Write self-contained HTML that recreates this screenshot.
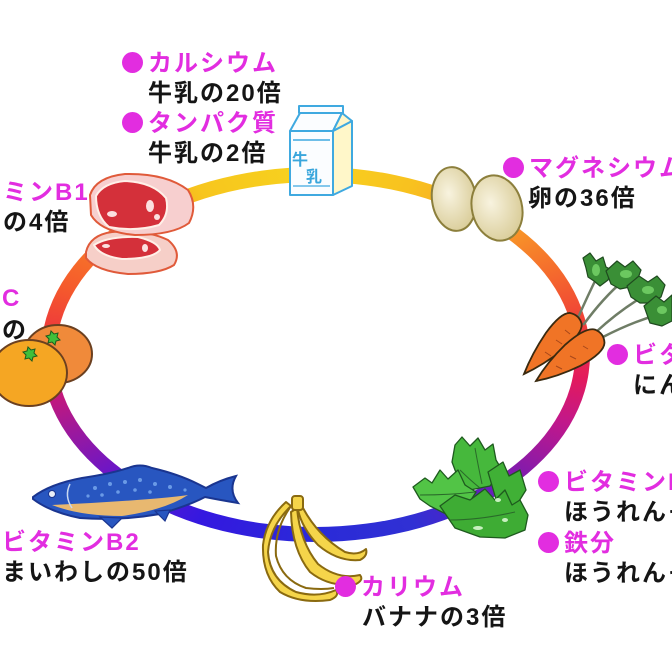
<!DOCTYPE html>
<html><head><meta charset="utf-8">
<style>
html,body{margin:0;padding:0;background:#fff;}
body{width:672px;height:672px;overflow:hidden;position:relative;}
#ring{position:absolute;left:40.5px;top:166.5px;width:549px;height:375px;border-radius:50%;
background:conic-gradient(from 0deg at 50% 50%,#f7d31f 0deg,#f8c11f 30deg,#f89628 58deg,#f56e2c 70deg,#f04436 82deg,#e31a5c 95deg,#c2188a 105deg,#8a1aa8 118deg,#4f22c8 135deg,#3030d4 150deg,#2a2ad8 180deg,#3418e0 215deg,#6a16c8 240deg,#9a189e 252deg,#c81878 262deg,#ec3040 272deg,#f55a2c 285deg,#f88028 300deg,#f7c61e 325deg,#f7d31f 360deg);}
#hole{position:absolute;left:55.5px;top:181.5px;width:519px;height:345px;border-radius:50%;background:#fff;}
svg{position:absolute;left:0;top:0;}
.t{position:absolute;white-space:nowrap;font-family:"Liberation Sans","Noto Sans CJK JP",sans-serif;font-weight:bold;font-size:24px;letter-spacing:2px;line-height:30px;color:#151515;}
.m{color:#e22de0;}
.b{display:inline-block;width:21px;height:21px;border-radius:50%;background:#e22de0;margin-right:5px;vertical-align:-2px;}
</style></head>
<body>
<div id="ring"></div>
<div id="hole"></div>

<svg width="672" height="672" viewBox="0 0 672 672">
<defs>
<radialGradient id="egg" cx="40%" cy="40%" r="65%">
<stop offset="0" stop-color="#f8f3df"/><stop offset="1" stop-color="#d9cc98"/>
</radialGradient>
</defs>

<!-- milk carton -->
<g stroke="#3fa9e0" stroke-width="2" stroke-linejoin="round">
<polygon points="333,131 352,121 352,186 333,195" fill="#fff7c9"/>
<polygon points="290,131 333,131 342,113 300,113" fill="#fbfdff"/>
<polygon points="333,131 352,121 342,113" fill="#fff7c9"/>
<rect x="299" y="106" width="44" height="7" fill="#fbfdff"/>
<rect x="290" y="131" width="43" height="64" fill="#fbfdff"/>
<line x1="293" y1="140" x2="330" y2="140" stroke-width="1.5"/>
<line x1="293" y1="186" x2="330" y2="186" stroke-width="1.2"/>
</g>
<text x="292" y="165" font-family="Liberation Sans,Noto Sans CJK JP,sans-serif" font-weight="bold" font-size="16" fill="#3aa6dc">牛</text>
<text x="306" y="182" font-family="Liberation Sans,Noto Sans CJK JP,sans-serif" font-weight="bold" font-size="16" fill="#3aa6dc">乳</text>

<!-- eggs -->
<ellipse cx="454" cy="199" rx="22" ry="32" transform="rotate(-8 454 199)" fill="url(#egg)" stroke="#8c7f3c" stroke-width="2"/>
<ellipse cx="497" cy="208" rx="25" ry="33" transform="rotate(-14 497 208)" fill="url(#egg)" stroke="#8c7f3c" stroke-width="2"/>

<!-- carrot leaves & stems -->
<g stroke="#6f7d66" stroke-width="2.5" fill="none" stroke-linecap="round">
<path d="M577,320 Q588,295 598,275"/>
<path d="M584,324 Q603,298 624,280"/>
<path d="M596,332 Q620,310 644,296"/>
<path d="M603,337 Q632,322 660,314"/>
</g>
<g stroke="#1f4a1f" stroke-width="1.2" fill="#3a8f36" stroke-linejoin="round">
<polygon points="583,258 590,253 596,261 603,257 606,267 612,270 608,280 600,286 594,281 588,277 586,268"/>
<polygon points="606,271 617,261 625,267 633,261 641,270 637,281 630,287 620,289 611,284"/>
<polygon points="627,286 639,276 648,282 657,276 665,285 661,297 651,303 640,303 631,297"/>
<polygon points="644,306 656,296 664,302 672,295 672,321 662,326 650,323"/>
</g>
<g fill="#6cc860">
<ellipse cx="596" cy="270" rx="4" ry="6"/>
<ellipse cx="626" cy="274" rx="6" ry="4"/>
<ellipse cx="648" cy="290" rx="6" ry="4"/>
<ellipse cx="662" cy="310" rx="5" ry="4"/>
</g>

<!-- carrots -->
<g stroke="#3a2a10" stroke-width="1.8" fill="#f07426">
<path transform="translate(524,374) rotate(-47)" d="M0,0 Q20,-8 45,-12 Q70,-15 76,-8 Q81,0 76,8 Q70,15 45,12 Q20,8 0,0 Z"/>
<path transform="translate(536,381) rotate(-35)" d="M0,0 Q20,-9 45,-13 Q72,-16 78,-8 Q83,0 78,8 Q72,16 45,13 Q20,9 0,0 Z"/>
</g>
<g stroke="#a8481a" stroke-width="1" fill="none">
<path d="M545,352 l6,4 M556,340 l6,4 M565,330 l5,4 M556,366 l6,3 M570,356 l6,3 M583,346 l5,3"/>
</g>

<!-- meat -->
<g stroke="#e05a3a" stroke-width="2" stroke-linejoin="round">
<path d="M86,252 Q90,235 112,232 Q145,229 168,240 Q182,252 174,265 Q160,274 128,274 Q96,271 86,258 Z" fill="#f6cfc8"/>
<path d="M94,245 Q108,236 138,237 Q158,242 160,250 Q152,259 122,259 Q100,256 94,245 Z" fill="#d4303a" stroke="#fff0e8"/>
<path d="M90,195 Q96,177 125,174 Q166,173 188,190 Q198,206 189,223 Q173,235 135,235 Q101,232 91,215 Z" fill="#f7cfcf"/>
<path d="M96,196 Q103,183 125,181 Q153,182 166,198 Q170,214 159,225 Q135,232 109,227 Q96,216 96,196 Z" fill="#d4303a" stroke="#fff0e8"/>
</g>
<g fill="#fbe0e0">
<ellipse cx="112" cy="214" rx="5" ry="3"/>
<ellipse cx="150" cy="206" rx="4" ry="6"/>
<ellipse cx="157" cy="217" rx="3" ry="3"/>
<ellipse cx="145" cy="248" rx="3" ry="4"/>
<ellipse cx="106" cy="246" rx="4" ry="2"/>
</g>

<!-- mandarins -->
<ellipse cx="58" cy="354" rx="34" ry="29" fill="#f08a3a" stroke="#6b4020" stroke-width="2"/>
<ellipse cx="29" cy="373" rx="38" ry="33" fill="#f5a623" stroke="#6b4020" stroke-width="2"/>
<g fill="#3fbf3a" stroke="#1d5a1d" stroke-width="1">
<path d="M51,331 l3,3 l4,-1 l-1,4 l3,3 l-4,1 l-1,4 l-3,-3 l-4,1 l1,-4 l-3,-3 l4,-1 Z"/>
<path d="M28,347 l3,3 l4,-1 l-1,4 l3,3 l-4,1 l-1,4 l-3,-3 l-4,1 l1,-4 l-3,-3 l4,-1 Z"/>
</g>

<!-- fish -->
<path d="M33,497 Q50,484 82,478 Q110,474 128,468 Q140,463 152,468 Q178,474 198,484 L206,488 Q220,480 236,476 Q228,490 238,503 Q220,500 205,497 Q190,505 160,514 Q120,521 80,518 Q50,512 33,499 Z" fill="#2856c0" stroke="#1a3590" stroke-width="2"/>
<path d="M52,505 Q100,503 150,499 Q175,497 188,495 Q165,510 122,516 Q80,516 52,505 Z" fill="#e8b870"/>
<path d="M100,517 L112,528 L122,518 Z M155,511 L165,521 L170,510 Z" fill="#2856c0" stroke="#1a3590" stroke-width="1.2"/>
<g fill="#6a9ae6">
<circle cx="95" cy="488" r="2"/><circle cx="110" cy="484" r="2"/><circle cx="125" cy="482" r="2"/><circle cx="140" cy="480" r="2"/><circle cx="155" cy="484" r="2"/><circle cx="170" cy="487" r="2"/><circle cx="118" cy="492" r="1.8"/><circle cx="135" cy="490" r="1.8"/><circle cx="150" cy="492" r="1.8"/><circle cx="102" cy="495" r="1.8"/><circle cx="185" cy="490" r="1.6"/><circle cx="88" cy="496" r="1.6"/>
</g>
<circle cx="52" cy="494" r="3.5" fill="#e8eef8" stroke="#1a3590" stroke-width="1"/>
<path d="M70,484 Q64,496 72,508" stroke="#c8d8f0" stroke-width="1.5" fill="none"/>

<!-- bananas -->
<g stroke="#8a6a10" stroke-width="2" stroke-linejoin="round" fill="#f5d54a">
<path d="M303,508 Q318,536 345,552 Q358,556 366,549 Q368,556 360,560 Q338,562 318,545 Q302,528 298,510 Z"/>
<path d="M297,508 Q300,542 318,564 Q338,580 360,575 Q364,580 356,584 Q330,588 310,572 Q292,550 291,512 Z"/>
<path d="M291,506 Q270,526 268,552 Q270,580 296,592 Q318,598 336,590 Q340,596 330,600 Q300,604 280,592 Q262,575 263,545 Q266,520 286,502 Z"/>
<path d="M291,506 Q274,530 276,556 Q282,580 306,588 Q322,590 334,588" fill="none"/>
<rect x="292" y="496" width="11" height="14" rx="3"/>
</g>

<!-- spinach -->
<g stroke="#1e5a1e" stroke-width="1.3" stroke-linejoin="round">
<polygon points="452,462 455,445 462,437 470,446 478,438 485,450 493,444 496,460 502,470 490,486 470,490 458,478" fill="#46b83c"/>
<polygon points="488,472 503,462 509,476 520,470 526,490 516,506 498,506" fill="#40b036"/>
<polygon points="413,487 425,478 432,483 440,470 448,479 458,470 465,485 476,492 466,508 450,516 430,506 420,499" fill="#52c446"/>
<polygon points="440,506 455,495 470,500 485,489 495,500 505,490 512,505 520,500 528,515 525,530 505,538 480,537 455,528" fill="#3eac34"/>
</g>
<g stroke="#2a6a2a" stroke-width="1" fill="none">
<path d="M420,495 Q450,495 475,492 M460,470 Q470,480 480,488 M450,520 Q480,520 515,512 M475,448 Q478,465 482,484"/>
</g>
<g fill="#c8f0c0">
<ellipse cx="478" cy="528" rx="5" ry="2"/><ellipse cx="498" cy="500" rx="3" ry="2"/><ellipse cx="505" cy="520" rx="3" ry="2"/>
</g>
</svg>

<div class="t m" style="left:122px;top:49px;"><span class="b"></span>カルシウム</div>
<div class="t" style="left:148px;top:79px;">牛乳の20倍</div>
<div class="t m" style="left:122px;top:109px;"><span class="b"></span>タンパク質</div>
<div class="t" style="left:148px;top:139px;">牛乳の2倍</div>

<div class="t m" style="left:-75px;top:178px;"><span class="b"></span>ビタミンB1</div>
<div class="t" style="left:-49px;top:208px;">豚肉の4倍</div>

<div class="t m" style="left:-128px;top:284px;"><span class="b"></span>ビタミンC</div>
<div class="t" style="left:-102px;top:316px;">オレンジの</div>

<div class="t m" style="left:503px;top:154px;"><span class="b"></span>マグネシウム</div>
<div class="t" style="left:528px;top:184px;">卵の36倍</div>

<div class="t m" style="left:607px;top:341px;"><span class="b"></span>ビタミンA</div>
<div class="t" style="left:633px;top:371px;">にんじんの</div>

<div class="t m" style="left:538px;top:468px;"><span class="b"></span>ビタミンK</div>
<div class="t" style="left:564px;top:498px;">ほうれんそうの</div>
<div class="t m" style="left:538px;top:529px;"><span class="b"></span>鉄分</div>
<div class="t" style="left:564px;top:559px;">ほうれんそうの</div>

<div class="t m" style="left:335px;top:573px;"><span class="b"></span>カリウム</div>
<div class="t" style="left:362px;top:603px;">バナナの3倍</div>

<div class="t m" style="left:-24px;top:528px;"><span class="b"></span>ビタミンB2</div>
<div class="t" style="left:2px;top:558px;">まいわしの50倍</div>
</body></html>
